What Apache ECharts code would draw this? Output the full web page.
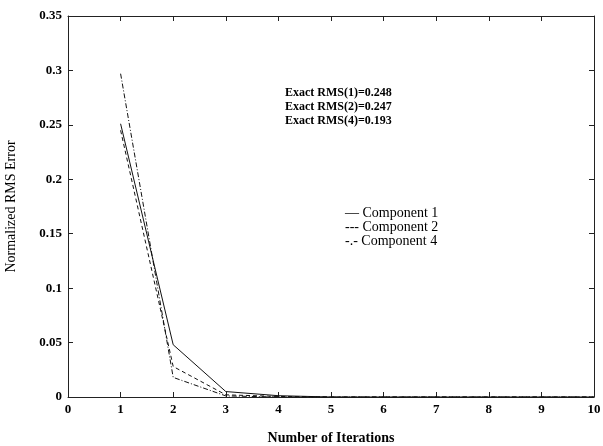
<!DOCTYPE html>
<html>
<head>
<meta charset="utf-8">
<script src="https://cdn.jsdelivr.net/npm/echarts@6/dist/echarts.min.js"></script>
<style>
    html, body { margin: 0; padding: 0; background: #fff; }
    #chart { width: 603px; height: 446px; }
</style>
</head>
<body>
<div id="chart"></div>
<script>
// values
const iterations = [1, 2, 3, 4, 5, 6, 7, 8, 9, 10]
const component1 = [0.251, 0.048, 0.005, 0.0012, 0, 0, 0, 0, 0, 0]
const component2 = [0.245, 0.028, 0.002, 0.0005, 0, 0, 0, 0, 0, 0]
const component4 = [0.297, 0.018, 0.001, 0, 0, 0, 0, 0, 0, 0]
const exactLines = ['Exact RMS(1)=0.248', 'Exact RMS(2)=0.247', 'Exact RMS(4)=0.193']
const legendLines = ['— Component 1', '--- Component 2', '-.- Component 4']

const font = 'Liberation Serif'
const myChart = echarts.init(document.getElementById('chart'))

const pair = (ys) => iterations.map((x, i) => [x, ys[i]])

const makeAxis = (extra) => Object.assign({
    type: 'value',
    axisLine: { show: true, onZero: false, lineStyle: { color: '#222', width: 1 } },
    axisTick: { show: true, inside: true, length: 5, lineStyle: { color: '#222' } },
    splitLine: { show: false }
}, extra)

myChart.setOption({
    animation: false,
    grid: { left: 68, right: 9, top: 16, bottom: 49, outerBoundsMode: 'none' },
    xAxis: [
        makeAxis({
            min: 0, max: 10, interval: 1,
            axisLabel: { color: '#000', fontFamily: font, fontSize: 13, fontWeight: 'bold', margin: 6 },
            name: 'Number of Iterations',
            nameLocation: 'middle',
            nameGap: 34,
            nameTextStyle: { color: '#000', fontFamily: font, fontSize: 14, fontWeight: 'bold' }
        }),
        makeAxis({
            position: 'top',
            min: 0, max: 10, interval: 1,
            axisLabel: { show: false }
        })
    ],
    yAxis: [
        makeAxis({
            min: 0, max: 0.35, interval: 0.05,
            axisLabel: { color: '#000', fontFamily: font, fontSize: 13, fontWeight: 'bold', margin: 6 },
            name: 'Normalized RMS Error',
            nameLocation: 'middle',
            nameGap: 50,
            nameTextStyle: { color: '#000', fontFamily: font, fontSize: 14 }
        }),
        makeAxis({
            position: 'right',
            min: 0, max: 0.35, interval: 0.05,
            axisLabel: { show: false }
        })
    ],
    series: [
        {
            name: 'Component 1', type: 'line', symbol: 'none',
            lineStyle: { color: '#111', width: 1, type: 'solid' },
            data: pair(component1)
        },
        {
            name: 'Component 2', type: 'line', symbol: 'none',
            lineStyle: { color: '#111', width: 1, type: [4, 3] },
            data: pair(component2)
        },
        {
            name: 'Component 4', type: 'line', symbol: 'none',
            lineStyle: { color: '#111', width: 1, type: [5, 2, 1, 2] },
            data: pair(component4)
        }
    ],
    graphic: [
        ...exactLines.map((t, i) => ({
            type: 'text', left: 285, top: 87 + i * 14,
            style: { text: t, fill: '#000', font: 'bold 12px "Liberation Serif"' }
        })),
        ...legendLines.map((t, i) => ({
            type: 'text', left: 345, top: 206 + i * 14,
            style: { text: t, fill: '#000', font: '14px "Liberation Serif"' }
        }))
    ]
})
</script>
</body>
</html>
